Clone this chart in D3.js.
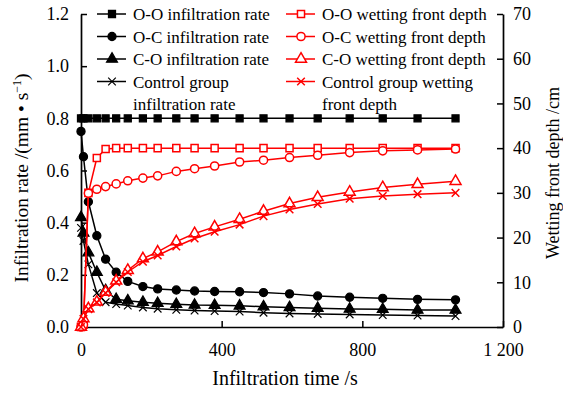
<!DOCTYPE html>
<html>
<head>
<meta charset="utf-8">
<script src="https://cdn.jsdelivr.net/npm/d3@7"></script>
<style>
  body { margin: 0; background: #fff; }
  svg text { font-family: "Liberation Serif", "DejaVu Serif", "Times New Roman", serif; }
</style>
</head>
<body>
<svg id="chart" width="563" height="394"></svg>
<script>
// infiltration time (s)
var times = [0, 7, 21, 45, 70, 100, 133, 176, 218, 271, 323, 380, 451, 519, 593, 673, 764, 858, 957, 1065];

// infiltration rate (mm/s)
var ooRate   = [0.8, 0.8, 0.8, 0.8, 0.8, 0.8, 0.8, 0.8, 0.8, 0.8, 0.8, 0.8, 0.8, 0.8, 0.8, 0.8, 0.8, 0.8, 0.8, 0.8];
var ocRate   = [0.75, 0.653, 0.48, 0.35, 0.26, 0.21, 0.175, 0.155, 0.146, 0.142, 0.138, 0.136, 0.135, 0.132, 0.127, 0.119, 0.114, 0.11, 0.106, 0.104];
var coRate   = [0.42, 0.36, 0.285, 0.21, 0.14, 0.106, 0.101, 0.095, 0.091, 0.087, 0.084, 0.083, 0.081, 0.078, 0.075, 0.072, 0.069, 0.068, 0.065, 0.065];
var ctrlRate = [0.38, 0.33, 0.24, 0.13, 0.095, 0.088, 0.082, 0.075, 0.07, 0.066, 0.063, 0.061, 0.059, 0.055, 0.052, 0.05, 0.048, 0.046, 0.044, 0.042];

// wetting front depth (cm)
var ooDepth   = [0, 0.5, 30, 37.8, 39.8, 40, 40, 40, 40, 40, 40, 40, 40, 40, 40, 40, 40, 40, 40, 40];
var ocDepth   = [0, 0.5, 29.9, 30.8, 31.4, 32, 32.7, 33.3, 33.8, 34.8, 35.4, 36, 36.9, 37.3, 37.9, 38.4, 39, 39.4, 39.6, 39.8];
var coDepth   = [0, 1.9, 4.1, 5.6, 7.8, 10.3, 12.7, 15.3, 16.8, 19.1, 20.9, 22.4, 24.1, 25.9, 27.6, 29, 30.2, 31.2, 31.9, 32.6];
var ctrlDepth = [0, 1.8, 4, 5.5, 7.6, 10, 12.3, 14.6, 16, 18, 19.8, 21.3, 22.9, 24.8, 26.3, 27.5, 28.7, 29.3, 29.7, 30];

var xTicks = [0, 400, 800, 1200];
var yLeftTicks = [0, 0.2, 0.4, 0.6, 0.8, 1.0, 1.2];
var yRightTicks = [0, 10, 20, 30, 40, 50, 60, 70];

var serif = '"Liberation Serif", "DejaVu Serif", "Times New Roman", serif';

var svg = d3.select("#chart"),
    margin = {top: 14, right: 60, bottom: 67, left: 81},
    width = +svg.attr("width") - margin.left - margin.right,
    height = +svg.attr("height") - margin.top - margin.bottom,
    g = svg.append("g").attr("transform", "translate(" + margin.left + "," + margin.top + ")");

var x = d3.scaleLinear().domain([0, 1200]).range([0, width]);
var yL = d3.scaleLinear().domain([0, 1.2]).range([height, 0]);
var yR = d3.scaleLinear().domain([0, 70]).range([height, 0]);

function styleAxis(sel) {
    sel.attr("font-family", serif).attr("font-size", 18);
    sel.selectAll("path").attr("stroke", "#000").attr("stroke-width", 1.7);
    sel.selectAll("line").attr("stroke", "#000").attr("stroke-width", 1.5);
    sel.selectAll("text").attr("fill", "#000");
}

g.append("g")
    .attr("transform", "translate(0," + height + ")")
    .call(d3.axisBottom(x).tickValues(xTicks).tickSizeInner(-6).tickSizeOuter(0).tickPadding(16)
        .tickFormat(function (d) { return d === 1200 ? "1 200" : d; }))
    .call(styleAxis);

g.append("g")
    .call(d3.axisLeft(yL).tickValues(yLeftTicks).tickSizeInner(-6).tickSizeOuter(0).tickPadding(12)
        .tickFormat(d3.format(".1f")))
    .call(styleAxis);

g.append("g")
    .attr("transform", "translate(" + width + ",0)")
    .call(d3.axisRight(yR).tickValues(yRightTicks).tickSizeInner(-6).tickSizeOuter(0).tickPadding(10))
    .call(styleAxis);

// axis titles
svg.append("text")
    .attr("x", 285).attr("y", 385)
    .attr("text-anchor", "middle")
    .attr("font-family", serif)
    .attr("font-size", 20)
    .text("Infiltration time /s");

var lt = svg.append("text")
    .attr("transform", "translate(28,178) rotate(-90)")
    .attr("text-anchor", "middle")
    .attr("font-family", serif)
    .attr("font-size", 19.5);
lt.append("tspan").text("Infiltration rate /(mm \u2022 s");
lt.append("tspan").attr("dy", "-7").attr("font-size", 12).text("\u22121");
lt.append("tspan").attr("dy", "7").text(")");

svg.append("text")
    .attr("transform", "translate(559,173) rotate(-90)")
    .attr("text-anchor", "middle")
    .attr("font-family", serif)
    .attr("font-size", 18)
    .text("Wetting front depth /cm");

// markers
function crossPath(r) {
    return "M" + (-r) + "," + (-r) + "L" + r + "," + r + "M" + (-r) + "," + r + "L" + r + "," + (-r);
}
var shapes = {
    square: d3.symbol().type(d3.symbolSquare).size(50)(),
    circle: d3.symbol().type(d3.symbolCircle).size(52)(),
    triangle: d3.symbol().type(d3.symbolTriangle).size(52)(),
    cross: crossPath(3.8)
};

var series = [
    {name: "O-O infiltration rate", vals: ooRate, y: yL, color: "#000", shape: "square", fill: true},
    {name: "O-C infiltration rate", vals: ocRate, y: yL, color: "#000", shape: "circle", fill: true},
    {name: "C-O infiltration rate", vals: coRate, y: yL, color: "#000", shape: "triangle", fill: true},
    {name: "Control group infiltration rate", vals: ctrlRate, y: yL, color: "#000", shape: "cross", fill: true},
    {name: "O-O wetting front depth", vals: ooDepth, y: yR, color: "#ff0000", shape: "square", fill: false},
    {name: "O-C wetting front depth", vals: ocDepth, y: yR, color: "#ff0000", shape: "circle", fill: false},
    {name: "C-O wetting front depth", vals: coDepth, y: yR, color: "#ff0000", shape: "triangle", fill: false},
    {name: "Control group wetting front depth", vals: ctrlDepth, y: yR, color: "#ff0000", shape: "cross", fill: false}
];

function drawMarker(sel, s) {
    sel.append("path")
        .attr("d", shapes[s.shape])
        .attr("fill", s.shape === "cross" ? "none" : (s.fill ? s.color : "#fff"))
        .attr("stroke", s.color)
        .attr("stroke-width", s.fill ? 1.2 : 1.5);
}

series.forEach(function (s) {
    var pts = times.map(function (t, i) { return [t, s.vals[i]]; });
    var line = d3.line()
        .x(function (d) { return x(d[0]); })
        .y(function (d) { return s.y(d[1]); });
    g.append("path")
        .datum(pts)
        .attr("fill", "none")
        .attr("stroke", s.color)
        .attr("stroke-width", 1.5)
        .attr("d", line);
    g.selectAll(null)
        .data(pts)
        .enter().append("g")
        .attr("transform", function (d) { return "translate(" + x(d[0]) + "," + s.y(d[1]) + ")"; })
        .each(function () { drawMarker(d3.select(this), s); });
});

// legend
var legendRows = [14, 36.5, 59, 81.5];
var legendText = [
    ["O-O infiltration rate"], ["O-C infiltration rate"], ["C-O infiltration rate"],
    ["Control group", "infiltration rate"],
    ["O-O wetting front depth"], ["O-C wetting front depth"], ["C-O wetting front depth"],
    ["Control group wetting", "front depth"]
];
series.forEach(function (s, i) {
    var col = i < 4 ? 0 : 1,
        row = i % 4,
        x0 = col === 0 ? 97 : 286,
        cy = legendRows[row];
    var lg = svg.append("g");
    lg.append("line")
        .attr("x1", x0).attr("x2", x0 + 29)
        .attr("y1", cy).attr("y2", cy)
        .attr("stroke", s.color).attr("stroke-width", 1.5);
    drawMarker(lg.append("g").attr("transform", "translate(" + (x0 + 15) + "," + cy + ")"), s);
    legendText[i].forEach(function (t, k) {
        lg.append("text")
            .attr("x", x0 + 36)
            .attr("y", cy + 6 + k * 22)
            .attr("font-family", serif)
            .attr("font-size", 17)
            .text(t);
    });
});
</script>
</body>
</html>
